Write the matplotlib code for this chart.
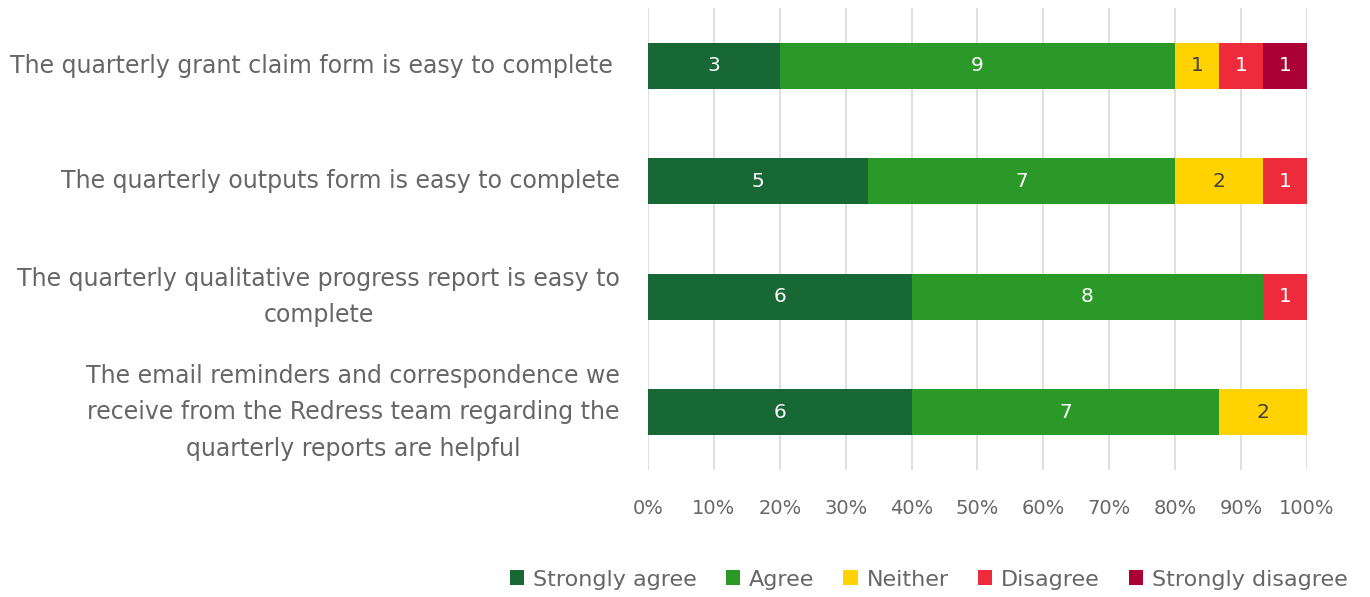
import numpy as np
import matplotlib.pyplot as plt
from matplotlib.ticker import PercentFormatter

plt.rcParams['font.family'] = ['DejaVu Sans']

# survey statements (top to bottom) and response counts
statements = [
    'The quarterly grant claim form is easy to complete ',
    'The quarterly outputs form is easy to complete',
    'The quarterly qualitative progress report is easy to\ncomplete',
    'The email reminders and correspondence we\nreceive from the Redress team regarding the\nquarterly reports are helpful',
]
responses = ['Strongly agree', 'Agree', 'Neither', 'Disagree', 'Strongly disagree']
strongly_agree = [3, 5, 6, 6]
agree = [9, 7, 8, 7]
neither = [1, 2, 0, 2]
disagree = [1, 1, 1, 0]
strongly_disagree = [1, 0, 0, 0]

colours = ['#176834', '#2a9928', '#ffd200', '#ee2b3b', '#aa0036']
text_colours = ['white', 'white', '#404040', 'white', 'white']
grey = '#666666'

counts = np.array([strongly_agree, agree, neither, disagree, strongly_disagree], dtype=float)
totals = counts.sum(axis=0)
shares = counts / totals

fig = plt.figure(figsize=(13.7, 5.97), dpi=100)
ax = fig.add_axes([0.473, 0.2127, 0.481, 0.774])

y = np.arange(len(statements))
left = np.zeros(len(statements))
for i, name in enumerate(responses):
    bars = ax.barh(y, shares[i], left=left, height=0.4, color=colours[i],
                   label=name, zorder=3)
    for j, b in enumerate(bars):
        if counts[i, j] > 0:
            ax.text(left[j] + shares[i, j] / 2, y[j], f'{int(counts[i, j])}',
                    ha='center', va='center', color=text_colours[i],
                    fontsize=14.5, zorder=4)
    left += shares[i]

ax.set_xlim(0, 1)
ax.set_ylim(len(statements) - 0.5, -0.5)
ax.set_xticks(np.arange(0, 1.01, 0.1))
ax.xaxis.set_major_formatter(PercentFormatter(1.0, decimals=0))
ax.set_yticks(y)
ax.set_yticklabels(statements)
for lab in ax.get_yticklabels():
    lab.set_multialignment('center')
    lab.set_verticalalignment('center')
    lab.set_linespacing(1.65)

ax.tick_params(axis='x', length=0, pad=21, labelsize=14, labelcolor=grey)
ax.tick_params(axis='y', length=0, pad=20, labelsize=17, labelcolor=grey)
ax.grid(axis='x', color='#d9d9d9', linewidth=1.2, zorder=0)
for s in ax.spines.values():
    s.set_visible(False)

fig.legend(*ax.get_legend_handles_labels(), loc='center', ncol=5,
           bbox_to_anchor=(0.678, 0.029), frameon=False, fontsize=16,
           labelcolor=grey, handlelength=0.65, handleheight=0.65,
           handletextpad=0.4, columnspacing=1.3)

fig.savefig('out.png', dpi=100)
